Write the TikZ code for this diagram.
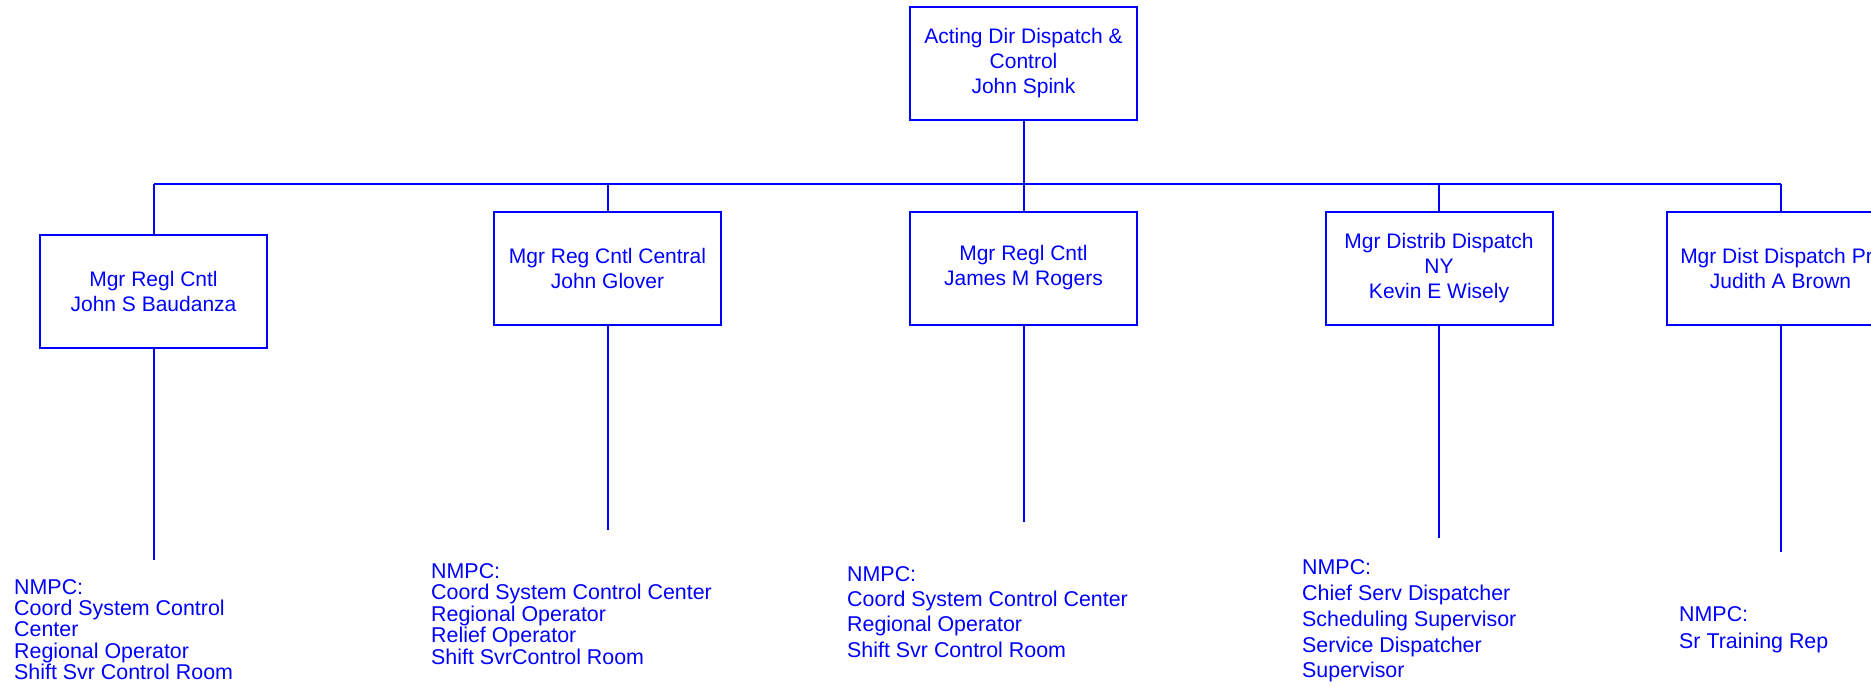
\documentclass[tikz,border=0pt]{standalone}
\usepackage{fontspec}
\setmainfont{Liberation Sans}
\definecolor{orgblue}{RGB}{0,0,255}
\begin{document}
\begin{tikzpicture}[x=1pt,y=-1pt,
  every node/.style={text=orgblue, inner sep=0pt},
  posbox/.style={draw=orgblue, line width=2pt, fill=white, minimum width=227pt, minimum height=113pt, align=center, font=\fontsize{21}{25}\selectfont},
  link/.style={draw=orgblue, line width=2pt},
  staff/.style={align=left, anchor=north west},
]
\useasboundingbox (0,0) rectangle (1871,688);
\clip (0,0) rectangle (1871,688);
\fill[white] (0,0) rectangle (1871,688);

\coordinate (bar) at (0,184);

\node[posbox] (top) at (1023.5,63.5) {Acting Dir Dispatch \&\\Control\\John Spink};
\node[posbox] (b1) at (153.5,291.5) {Mgr Regl Cntl\\John S Baudanza};
\node[posbox] (b2) at (607.5,268) {Mgr Reg Cntl Central\\John Glover};
\node[posbox] (b3) at (1023.5,268) {Mgr Regl Cntl\\James M Rogers};
\node[posbox] (b4) at (1439,268) {Mgr Distrib Dispatch\\NY\\Kevin E Wisely};
\node[posbox] (b5) at (1780.5,268) {Mgr Dist Dispatch Pr\hspace*{8pt}\\Judith A Brown};

\coordinate (e1) at (153.5,560);
\coordinate (e2) at (607.5,530);
\coordinate (e3) at (1023.5,522);
\coordinate (e4) at (1439,538);
\coordinate (e5) at (1780.5,552);

\draw[link] (top.south) -- (top.south |- bar);
\draw[link] (b1.north |- bar) -- (b5.north |- bar);
\foreach \b in {b1,b2,b3,b4,b5} {
  \draw[link] (\b.north) -- (\b.north |- bar);
}
\draw[link] (b1.south) -- (e1);
\draw[link] (b2.south) -- (e2);
\draw[link] (b3.south) -- (e3);
\draw[link] (b4.south) -- (e4);
\draw[link] (b5.south) -- (e5);

\node[staff, font=\fontsize{21.4}{21.3}\selectfont] (s1) at (14,579) {NMPC:\\Coord System Control\\Center\\Regional Operator\\Shift Svr Control Room};
\node[staff, font=\fontsize{21.4}{21.5}\selectfont] (s2) at (431,563) {NMPC:\\Coord System Control Center\\Regional Operator\\Relief Operator\\Shift SvrControl Room};
\node[staff, font=\fontsize{21.4}{25.3}\selectfont] (s3) at (847,566) {NMPC:\\Coord System Control Center\\Regional Operator\\Shift Svr Control Room};
\node[staff, font=\fontsize{21.4}{25.8}\selectfont] (s4) at (1302,559.5) {NMPC:\\Chief Serv Dispatcher\\Scheduling Supervisor\\Service Dispatcher\\Supervisor};
\node[staff, font=\fontsize{21.4}{26.7}\selectfont] (s5) at (1679,606.5) {NMPC:\\Sr Training Rep};
\end{tikzpicture}
\end{document}
